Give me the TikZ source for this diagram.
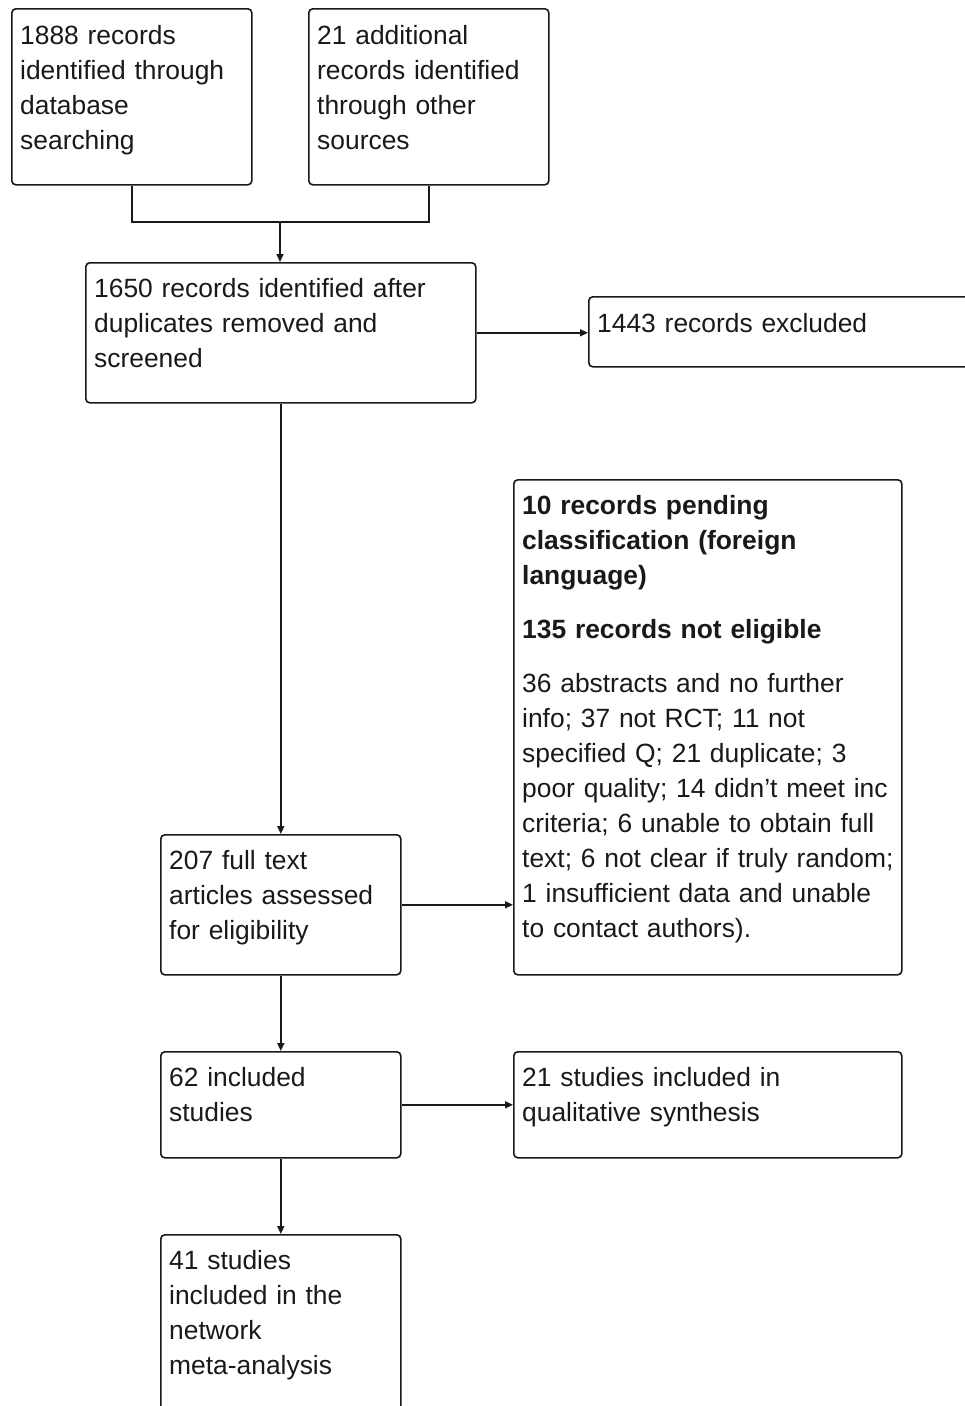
\documentclass[tikz,border=0pt]{standalone}
\usepackage{fontspec}
\setmainfont{Liberation Sans}
\usetikzlibrary{arrows.meta}
\definecolor{ink}{RGB}{25,25,25}
\begin{document}
\begin{tikzpicture}[x=1pt,y=-1pt,
  box/.style={draw=ink, line width=1.6pt, rounded corners=4pt, inner sep=0pt, anchor=north west},
  txt/.style={anchor=base west, inner sep=0pt, text width=#1, align=left, text=ink,
              font=\fontsize{26.4}{35}\selectfont},
  ln/.style={draw=ink, line width=1.6pt},
  arr/.style={draw=ink, line width=1.6pt, -{Triangle[length=8pt,width=7pt]}}]
\useasboundingbox (0,0) rectangle (965,1406);
\clip (0,0) rectangle (965,1406);
% boxes
\node[box, minimum width=240pt, minimum height=176pt] (a) at (11,8) {};
\node[box, minimum width=240pt, minimum height=176pt] (b) at (308,8) {};
\node[box, minimum width=390pt, minimum height=140pt] (c) at (85,262) {};
\node[box, minimum width=420pt, minimum height=70pt] (d) at (588,296) {};
\node[box, minimum width=240pt, minimum height=140pt] (e) at (160,834) {};
\node[box, minimum width=388pt, minimum height=495pt] (f) at (513,479) {};
\node[box, minimum width=240pt, minimum height=106pt] (g) at (160,1051) {};
\node[box, minimum width=388pt, minimum height=106pt] (h) at (513,1051) {};
\node[box, minimum width=240pt, minimum height=200pt] (i) at (160,1234) {};
% texts
\node[txt=230pt] (ta) at (20,44) {1888 records\\identified through\\database\\searching};
\node[txt=230pt] (tb) at (317,44) {21 additional\\records identified\\through other\\sources};
\node[txt=380pt] (tc) at (94,297) {1650 records identified after\\duplicates removed and\\screened};
\node[txt=370pt] (td) at (597,332) {1443 records excluded};
\node[txt=230pt] (te) at (169,869) {207 full text\\articles assessed\\for eligibility};
\node[txt=380pt] (tf) at (522,514) {\textbf{10 records pending}\\\textbf{classification (foreign}\\\textbf{language)}\\[19pt]\textbf{135 records not eligible}\\[19pt]36 abstracts and no further\\info; 37 not RCT; 11 not\\specified Q; 21 duplicate; 3\\poor quality; 14 didn’t meet inc\\criteria; 6 unable to obtain full\\text; 6 not clear if truly random;\\1 insufficient data and unable\\to contact authors).};
\node[txt=230pt] (tg) at (169,1086) {62 included\\studies};
\node[txt=380pt] (th) at (522,1086) {21 studies included in\\qualitative synthesis};
\node[txt=230pt] (ti) at (169,1269) {41 studies\\included in the\\network\\meta-analysis};
% connectors
\coordinate (j) at (280,222);
\draw[ln] (a.south) |- (j) -| (b.south);
\draw[arr] (j) -- (j |- c.north);
\draw[arr] (c.east) -- (c.east -| d.west);
\draw[arr] (c.south) -- (e.north);
\draw[arr] (e.east) -- (e.east -| f.west);
\draw[arr] (e.south) -- (g.north);
\draw[arr] (g.east) -- (h.west);
\draw[arr] (g.south) -- (i.north);
\end{tikzpicture}
\end{document}
